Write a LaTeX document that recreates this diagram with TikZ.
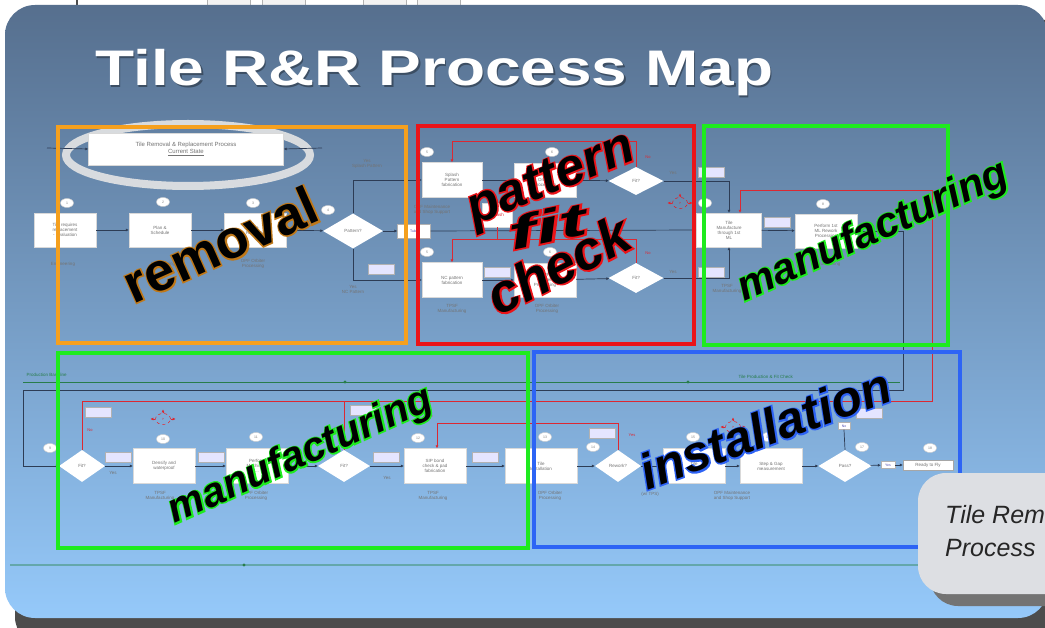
\documentclass[tikz,border=0pt]{standalone}
\usepackage{fontspec}
\setmainfont{Liberation Sans}
\usetikzlibrary{shapes.geometric,arrows.meta}

\definecolor{slidetop}{RGB}{86,111,142}
\definecolor{slidemid}{RGB}{112,150,194}
\definecolor{slidebot}{RGB}{149,201,250}
\definecolor{mapline}{RGB}{45,60,85}
\definecolor{mapred}{RGB}{220,40,50}
\definecolor{remorange}{RGB}{245,160,30}
\definecolor{fitred}{RGB}{235,20,25}
\definecolor{mfggreen}{RGB}{30,235,30}
\definecolor{instblue}{RGB}{45,100,245}
\definecolor{calloutgrey}{RGB}{221,223,227}
\definecolor{basegreen}{RGB}{40,125,75}

% black letters over a coloured rim (stroke colour given as r g b)
\newcommand\rimtext[2]{\rlap{\special{pdf:literal direct 1 Tr 2.8 w #1 RG}#2\special{pdf:literal direct 0 Tr}}#2}

\tikzset{
  proc/.style={fill=white, draw=gray!30, minimum width=62pt, minimum height=34pt,
    inner sep=1pt, align=center, font=\fontsize{4.5}{5}\selectfont, text=black!55},
  dec/.style={diamond, fill=white, minimum width=54pt, minimum height=32pt,
    inner sep=0pt, font=\fontsize{4.5}{5}\selectfont, text=black!55},
  num/.style={ellipse, fill=white, draw=gray!40, minimum width=13pt, minimum height=9pt,
    inner sep=0pt, font=\fontsize{3.5}{4}\selectfont, text=black!50},
  tag/.style={fill=white!90!blue, draw=gray!60, minimum width=26pt, minimum height=10pt,
    inner sep=0pt, font=\fontsize{3.5}{4}\selectfont, text=blue!40!gray},
  lbl/.style={font=\fontsize{4.5}{5}\selectfont, text=black!55, align=center},
  rlbl/.style={font=\fontsize{4}{4.5}\selectfont, text=mapred},
  glbl/.style={font=\fontsize{4.5}{5}\selectfont, text=basegreen, anchor=base west},
  burst/.style={ellipse, draw=red, dashed, minimum width=15pt, minimum height=11pt,
    inner sep=0pt, font=\fontsize{3}{3.5}\selectfont, text=red},
  flow/.style={draw=mapline, line width=.7pt, -{Latex[length=3pt,width=3pt]}},
  link/.style={draw=mapline, line width=.7pt},
  redflow/.style={draw=mapred, line width=.7pt, -{Latex[length=3pt,width=3pt]}},
  zone/.style={line width=3.5pt},
  wordart/.style={font=\fontsize{#1}{#1}\selectfont\bfseries\itshape, text=black,
    inner sep=0pt, anchor=base},
}

\begin{document}
\begin{tikzpicture}[x=1pt,y=-1pt]
  \useasboundingbox (0,0) rectangle (1045,628);
  % page and window bar
  \fill[white] (0,0) rectangle (1045,628);
  \foreach \a in {207,262,363,417}
    \draw[gray!60, fill=gray!10] (\a,-3) rectangle ++(43,8);
  \draw[black!70, line width=1.2pt] (77,0) -- (77,5);
  % slide with its shadow
  \fill[black!70, rounded corners=28pt] (15,20) rectangle (1075,645);
  \shade[top color=slidetop, middle color=slidemid, bottom color=slidebot,
    rounded corners=30pt] (5,5) rectangle (1048,618);
  % title
  \node[anchor=base west, inner sep=0pt, text=black!30!slidetop, xscale=1.28,
    font=\fontsize{50}{50}\selectfont\bfseries] at (96.5,87.5) {Tile R\&R Process Map};
  \node[anchor=base west, inner sep=0pt, text=white, xscale=1.28,
    font=\fontsize{50}{50}\selectfont\bfseries] (title) at (95,86) {Tile R\&R Process Map};

  % current state banner
  \draw[white!80!gray, line width=8pt, opacity=.9] (188,155) ellipse [x radius=122, y radius=31];
  \node[proc, minimum width=195pt, minimum height=32pt, font=\fontsize{6}{7}\selectfont]
    (cs) at (186,149) {Tile Removal \& Replacement Process\\\underline{Current State}};
  \coordinate (csL) at (47,148);
  \coordinate (csR) at (322,148);

  % first row: removal
  \node[proc] (r1) at (65,230) {Tile requires\\replacement\\- Evaluation};
  \node[proc] (r2) at (160,230) {Plan \&\\Schedule};
  \node[proc] (r3) at (255,230) {Tile\\Removal};
  \node[dec, minimum width=60pt, minimum height=35pt] (pat) at (353,231) {Pattern?};
  \node[num] (n1) at (67,203) {1};
  \node[num] (n2) at (163,202) {2};
  \node[num] (n3) at (253,203) {3};
  \node[num] (n4) at (328,210) {4};
  \node[lbl] (e1) at (63,264) {Engineering};
  \node[lbl] (e2) at (163,264) {Engineering};
  \node[lbl] (o3) at (253,264) {OPF Orbiter\\Processing};
  \node[lbl] (ysp) at (367,164) {Yes\\Splash Pattern};
  \node[lbl] (ync) at (353,289) {Yes\\NC Pattern};
  \node[tag] (tnc) at (381,269) {};
  \node[tag, fill=white, minimum width=33pt, minimum height=14pt] (tube) at (414,231) {Tube};

  % pattern fit check
  \node[proc, minimum width=60pt, minimum height=35pt] (sp) at (452,180) {Splash\\Pattern\\fabrication};
  \node[proc, minimum width=30pt, minimum height=24pt, text=mapred] (spx) at (497,215) {Splash};
  \node[proc] (opf1) at (545,180) {OPF\\Orbiter\\Processing};
  \node[dec, minimum width=55pt, minimum height=28pt] (fit1) at (636,181) {Fit?};
  \node[proc, minimum width=60pt, minimum height=35pt] (nc) at (452,280) {NC pattern\\fabrication};
  \node[tag] (tpf) at (497,272) {};
  \node[proc] (opf2) at (545,280) {OPF\\Orbiter\\Processing};
  \node[dec, minimum width=55pt, minimum height=30pt] (fit2) at (636,278) {Fit?};
  \node[num] (n5) at (427,152) {5};
  \node[num] (n6) at (552,152) {6};
  \node[num] (n5b) at (427,252) {5};
  \node[num] (n6b) at (550,252) {6};
  \node[lbl] (oms) at (432,210) {OPF Maintenance\\and Shop Support};
  \node[lbl] (tm1) at (452,309) {TPSF\\Manufacturing};
  \node[lbl] (op2) at (547,309) {OPF Orbiter\\Processing};
  \node[lbl] (y1) at (673,173) {Yes};
  \node[lbl] (y2) at (673,272) {Yes};
  \node[rlbl] (no1) at (648,157) {No};
  \node[rlbl] (no2) at (648,253) {No};
  \node[burst] (b1) at (680,203) {?};

  % manufacturing, top
  \node[proc, minimum width=65pt] (tm) at (729,230) {Tile\\Manufacture\\through 1st\\ML};
  \node[tag] (tgt) at (711,172) {};
  \node[tag] (tgb) at (711,272) {};
  \node[tag] (tmr) at (777,222) {};
  \node[proc] (rw) at (826,231) {Perform 1st\\ML Rework\\Processing};
  \node[num] (n7) at (705,203) {7};
  \node[num] (n8) at (823,204) {8};
  \node[lbl] (tm2) at (727,289) {TPSF\\Manufacturing};
  \node[lbl] (tm3) at (826,262) {TPSF\\Manufacturing};

  % second row: manufacturing
  \node[dec, minimum width=46pt, minimum height=32pt] (fitA) at (82,466) {Fit?};
  \node[proc, minimum height=35pt] (dens) at (164,466) {Densify and\\waterproof};
  \node[proc, minimum height=35pt] (perf) at (257,466) {Perform\\Machining\\...};
  \node[dec, minimum width=52pt, minimum height=32pt] (fitB) at (344,466) {Fit?};
  \node[proc, minimum height=35pt] (sip) at (435,466) {SIP bond\\check \& pad\\fabrication};
  \node[tag] (tgE) at (98,412) {};
  \node[tag] (tgF) at (118,457) {};
  \node[tag] (tgG) at (211,457) {};
  \node[tag] (tgH) at (363,410) {};
  \node[tag] (tgI) at (386,457) {};
  \node[tag] (tgJ) at (485,457) {};
  \node[num] (n9) at (50,448) {9};
  \node[num] (n10) at (163,439) {10};
  \node[num] (n11) at (256,437) {11};
  \node[num] (n12) at (418,438) {12};
  \node[burst] (b2) at (163,419) {?};
  \node[lbl] (yA) at (113,473) {Yes};
  \node[lbl] (yB) at (387,478) {Yes};
  \node[rlbl] (noA) at (90,430) {No};
  \node[rlbl] (noB) at (430,416) {No};
  \node[lbl] (tm4) at (160,496) {TPSF\\Manufacturing};
  \node[lbl] (op4) at (256,496) {OPF Orbiter\\Processing};
  \node[lbl] (tm5) at (433,496) {TPSF\\Manufacturing};

  % second row: installation
  \node[proc, minimum width=72pt, minimum height=35pt] (inst) at (541,466) {Tile\\Installation};
  \node[dec, minimum width=46pt, minimum height=32pt] (rewk) at (618,466) {Rework?};
  \node[proc, minimum height=35pt] (x1) at (694,466) {Tile\\Bond};
  \node[proc, minimum height=35pt] (gap) at (771,466) {Step \& Gap\\measurement};
  \node[dec, minimum width=53pt, minimum height=32pt] (pass) at (845,466) {Pass?};
  \node[tag, fill=white, minimum width=14pt, minimum height=7pt] (tgY) at (888,465) {Yes};
  \node[proc, minimum width=50pt, minimum height=10pt, draw=gray!70] (rtf) at (928,465) {Ready to Fly};
  \node[tag] (tgK) at (602,433) {};
  \node[tag, fill=white, minimum width=12pt, minimum height=7pt] (tgN) at (844,426) {No};
  \node[tag] (tgM) at (869,413) {};
  \node[num] (n13) at (545,437) {13};
  \node[num] (n14) at (593,447) {14};
  \node[num] (n15) at (693,437) {15};
  \node[num] (n16) at (768,437) {16};
  \node[num] (n17) at (862,447) {17};
  \node[num] (n18) at (930,448) {18};
  \node[burst] (b3) at (733,427) {?};
  \node[rlbl] (yR) at (632,435) {Yes};
  \node[lbl] (op5) at (550,496) {OPF Orbiter\\Processing};
  \node[lbl] (wt) at (650,494) {(w/ TPS)};
  \node[lbl] (oms2) at (732,496) {OPF Maintenance\\and Shop Support};

  % connectors, first row
  \draw[flow] (csL) -- (cs.west);
  \draw[flow] (csR) -- (cs.east);
  \draw[flow] (r1) -- (r2);
  \draw[flow] (r2) -- (r3);
  \draw[flow] (r3) -- (pat);
  \draw[flow] (pat.north) |- (sp.west);
  \draw[flow] (pat.south) |- (nc.west);
  \draw[flow] (pat.east) -- (tube.west);
  \draw[flow] (tube.east) -- (tm.west);
  \draw[flow] (sp) -- (opf1);
  \draw[flow] (opf1) -- (fit1);
  \draw[flow] (nc) -- (opf2);
  \draw[flow] (opf2) -- (fit2);
  \draw[flow] (fit1.east) -| (tm.north);
  \draw[flow] (fit2.east) -| (tm.south);
  \draw[flow] (tm) -- (rw);
  \draw[redflow] (fit1.north) -- ++(0,-25) -| (sp.north);
  \draw[redflow] (fit2.north) -- ++(0,-23) -| (nc.north);
  \draw[mapred, line width=.7pt] (spx.south) -- ++(0,13);
  \foreach \b in {b1,b2,b3} {
    \draw[redflow] (\b.west) -- ++(-5,0);
    \draw[redflow] (\b.east) -- ++(5,0);
    \draw[redflow] (\b.north) -- ++(0,-4);
  }

  % loops back to the second row
  \coordinate (dlA) at (903,390);
  \coordinate (dlB) at (23,390);
  \coordinate (rlA) at (932,401);
  \coordinate (rlB) at (932,190);
  \coordinate (rlC) at (437,423);
  \draw[flow] (rw.east) -| (dlA) -- (dlB) |- (fitA.west);
  \draw[redflow] (fitA.north) |- (rlA) -- (rlB) -| ([xshift=11pt]tm.north);
  \draw[mapred, line width=.7pt] (fitB.north) -- (fitB.north |- rlA);
  \draw[redflow] (rewk.north) |- (rlC) -- (rlC |- sip.north);

  % connectors, second row
  \draw[flow] (fitA) -- (dens);
  \draw[flow] (dens) -- (perf);
  \draw[flow] (perf) -- (fitB);
  \draw[flow] (fitB) -- (sip);
  \draw[flow] (sip) -- (inst);
  \draw[flow] (inst) -- (rewk);
  \draw[flow] (rewk) -- (x1);
  \draw[flow] (x1) -- (gap);
  \draw[flow] (gap) -- (pass);
  \draw[flow] (pass) -- (tgY);
  \draw[flow] (tgY) -- (rtf);
  \draw[link] (pass.north) -- (tgN.south);

  % baselines
  \coordinate (pbL) at (23,382);
  \coordinate (pbR) at (900,382);
  \draw[basegreen, line width=.8pt] (pbL) -- (pbR);
  \fill[basegreen] (345,382) circle (1.6) (688,382) circle (1.6);
  \node[glbl] (pb) at (23,377) {Production Baseline};
  \node[glbl] (tpc) at (735,379) {Tile Production \& Fit Check};
  \coordinate (blL) at (10,565);
  \coordinate (blR) at (918,565);
  \draw[basegreen!45!slidebot, line width=1.4pt] (blL) -- (blR);
  \fill[basegreen] (244,565) circle (1.6);

  % highlighted zones
  \draw[zone, remorange] (58,127) rectangle (406,343);
  \draw[zone, fitred] (418,126) rectangle (694,344);
  \draw[zone, mfggreen] (704,126) rectangle (948,345);
  \draw[zone, mfggreen] (58,353) rectangle (528,548);
  \draw[zone, instblue] (534,352) rectangle (960,547);

  % zone captions
  \begin{scope}
    \node[wordart=54, rotate=24] (wrem) at (228,262) {\upshape\rimtext{0.75 0.47 0.1}{removal}};
    \node[wordart=52, rotate=22] (wpat) at (556,192) {\rimtext{0.92 0.08 0.1}{pattern}};
    \node[wordart=46, rotate=12, xscale=1.8] (wfit) at (551,242) {\rimtext{0.92 0.08 0.1}{fit}};
    \node[wordart=54, rotate=27] (wchk) at (567,282) {\rimtext{0.92 0.08 0.1}{check}};
    \node[wordart=42, rotate=24] (wmf1) at (878,242) {\rimtext{0.12 0.92 0.12}{manufacturing}};
    \node[wordart=41, rotate=24] (wmf2) at (305,466) {\rimtext{0.12 0.92 0.12}{manufacturing}};
    \node[wordart=50, rotate=20] (wins) at (771,445) {\rimtext{0.18 0.39 0.96}{installation}};
  \end{scope}

  % caption card
  \fill[black!55, rounded corners=28pt] (930,486) rectangle (1085,606);
  \fill[calloutgrey, rounded corners=28pt] (918,473) rectangle (1080,594);
  \node[anchor=base west, inner sep=0pt, text=black!85,
    font=\fontsize{25}{25}\selectfont\itshape] (cap1) at (945,523) {Tile Rem};
  \node[anchor=base west, inner sep=0pt, text=black!85,
    font=\fontsize{25}{25}\selectfont\itshape] (cap2) at (945,556) {Process};
\end{tikzpicture}
\end{document}
